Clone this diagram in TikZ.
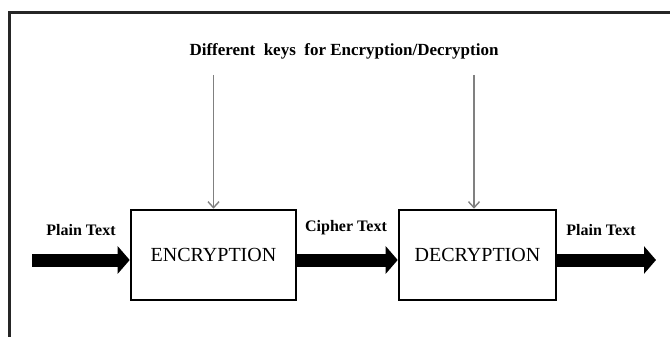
\documentclass[tikz,border=0pt]{standalone}
\usepackage{fontspec}
\setmainfont{Liberation Serif}
\usetikzlibrary{arrows.meta}
\begin{document}
\begin{tikzpicture}[x=1pt,y=-1pt,
  procbox/.style={draw=black,line width=2.6pt,minimum height=90pt,inner sep=0pt,font=\fontsize{20}{22}\selectfont},
  flow/.style={line width=13pt,-{Triangle[length=12pt,width=27pt]}},
  keyline/.style={draw=black!50,line width=1.6pt,-{Straight Barb[length=6pt,width=11pt,line width=1.4pt]}},
  lbl/.style={font=\bfseries\fontsize{16}{18}\selectfont,inner sep=0pt},
  frame/.style={draw=black!85,line width=2.2pt}]
\useasboundingbox (0,0) rectangle (670,337);
\draw[frame] (9.5,340) -- (9.5,12.5) -- (675,12.5);
\node[procbox,minimum width=165pt] (enc) at (213.5,255) {ENCRYPTION};
\node[procbox,minimum width=157pt] (dec) at (477.5,255) {DECRYPTION};
\node[lbl,font=\bfseries\fontsize{17}{19}\selectfont] (keys) at (344,51) {Different\ \ keys\ \ for\ Encryption/Decryption};
\coordinate (k1) at (213.5,75);
\coordinate (k2) at (474,75);
\coordinate (inL) at (32,260);
\coordinate (outR) at (656,260);
\draw[keyline] (k1) -- (k1 |- enc.north);
\draw[keyline] (k2) -- (k2 |- dec.north);
\draw[flow] (inL) -- (enc.west |- inL);
\draw[flow] (enc.east |- inL) -- (dec.west |- inL);
\draw[flow] (dec.east |- inL) -- (outR);
\node[lbl] (pt1) at (81,230) {Plain Text};
\node[lbl] (ct) at (346,228) {Cipher Text};
\node[lbl] (pt2) at (601,230) {Plain Text};
\end{tikzpicture}
\end{document}
